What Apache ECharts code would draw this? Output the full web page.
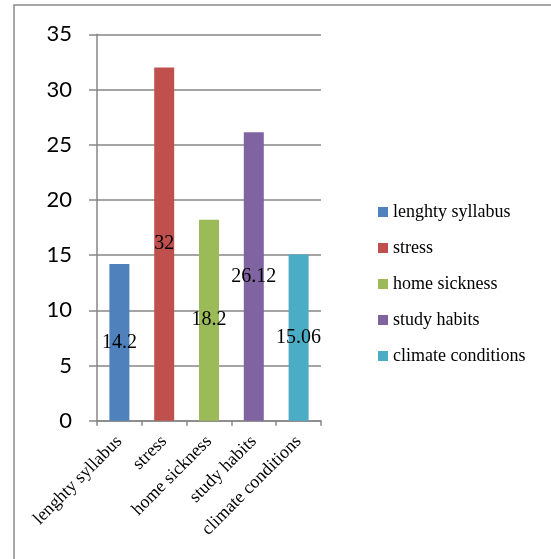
<!DOCTYPE html>
<html>
<head>
<meta charset="utf-8">
<script src="https://cdn.jsdelivr.net/npm/echarts@6/dist/echarts.min.js"></script>
<style>
html,body{margin:0;padding:0;background:#fff;}
#chart{width:551px;height:559px;}
</style>
</head>
<body>
<div id="chart"></div>
<script>
const categories = ['lenghty syllabus', 'stress', 'home sickness', 'study habits', 'climate conditions'];
const values = [14.2, 32, 18.2, 26.12, 15.06];
const colors = ['#4f81bd', '#c0504d', '#9bbb59', '#8064a2', '#4bacc6'];
const yTicks = { min: 0, max: 35, interval: 5 };

const chart = echarts.init(document.getElementById('chart'));
const serif = '"Liberation Serif", "Times New Roman", serif';
const sans = 'Lato, "Open Sans", sans-serif';

const series = categories.map((name, i) => ({
  name: name,
  type: 'bar',
  stack: 'all',
  barWidth: 20,
  itemStyle: { color: colors[i] },
  label: {
    show: true,
    position: 'inside',
    color: '#000',
    fontFamily: serif,
    fontSize: 20,
    formatter: '{c}'
  },
  data: categories.map((c, j) => (j === i ? values[i] : '-'))
}));

chart.setOption({
  animation: false,
  backgroundColor: '#fff',
  graphic: [{
    type: 'rect',
    shape: { x: 14, y: 5, width: 700, height: 700 },
    style: { fill: 'none', stroke: '#8a8a8a', lineWidth: 1.5 },
    silent: true
  }],
  grid: { left: 97, top: 34.3, right: 230, bottom: 138.3, containLabel: false },
  legend: {
    orient: 'vertical',
    left: 373,
    top: 198,
    itemWidth: 10,
    itemHeight: 10,
    itemGap: 18,
    icon: 'rect',
    textStyle: { fontFamily: serif, fontSize: 18, color: '#000' },
    data: categories
  },
  xAxis: {
    type: 'category',
    data: categories,
    axisLine: { lineStyle: { color: '#868686', width: 1.5 } },
    axisTick: { show: true, length: 5, lineStyle: { color: '#868686', width: 1.5 } },
    axisLabel: {
      rotate: 45,
      margin: 18,
      fontFamily: serif,
      fontSize: 18,
      color: '#000'
    }
  },
  yAxis: {
    type: 'value',
    min: yTicks.min,
    max: yTicks.max,
    interval: yTicks.interval,
    axisLine: { show: true, lineStyle: { color: '#868686', width: 1.5 } },
    axisTick: { show: true, length: 8, lineStyle: { color: '#868686', width: 1.5 } },
    splitLine: { show: true, lineStyle: { color: '#868686', width: 1.5 } },
    axisLabel: {
      margin: 25,
      fontFamily: sans,
      fontSize: 22,
      color: '#000'
    }
  },
  series: series
});
</script>
</body>
</html>
